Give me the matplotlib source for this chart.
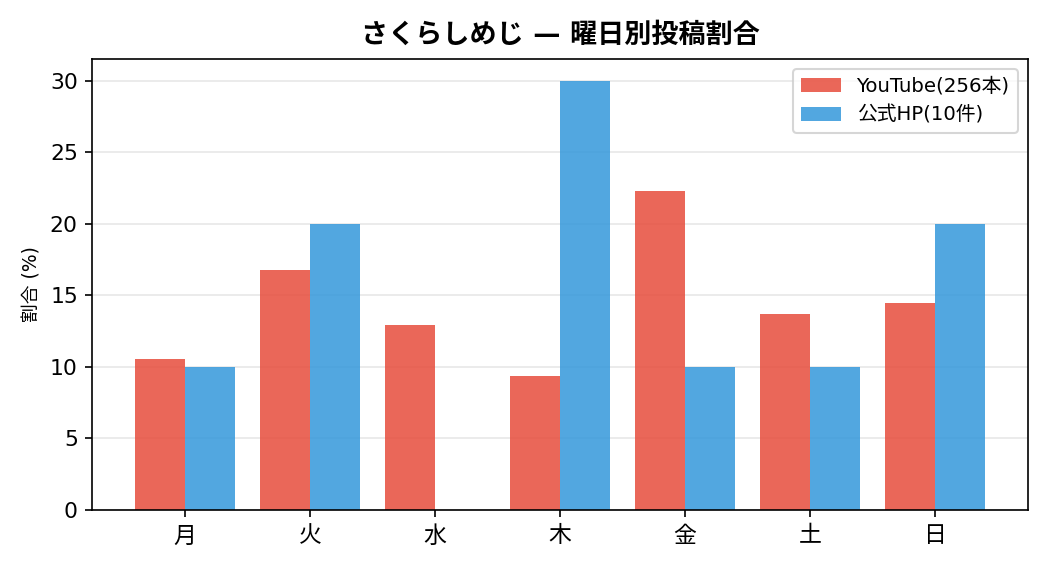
import numpy as np
import matplotlib
matplotlib.use("Agg")
import matplotlib.pyplot as plt

plt.rcParams['font.family'] = ['DejaVu Sans', 'Noto Sans CJK JP']

days = ['月', '火', '水', '木', '金', '土', '日']
youtube_pct = [10.55, 16.80, 12.89, 9.38, 22.27, 13.67, 14.45]
hp_pct = [10, 20, 0, 30, 10, 10, 20]

x = np.arange(len(days))
w = 0.4

fig, ax = plt.subplots(figsize=(7, 3.8), dpi=150)
ax.bar(x - w/2, youtube_pct, w, color='#e74c3c', alpha=0.85, label='YouTube(256本)')
ax.bar(x + w/2, hp_pct, w, color='#3498db', alpha=0.85, label='公式HP(10件)')

ax.set_xticks(x)
ax.set_xticklabels(days, fontsize=11)
ax.tick_params(axis='y', labelsize=10.5)
ax.set_ylabel('割合 (%)', fontsize=9)
ax.set_title('さくらしめじ — 曜日別投稿割合', fontsize=13, fontweight='bold', pad=8)
ax.grid(axis='y', alpha=0.3)
ax.set_axisbelow(True)
ax.legend(fontsize=9.5)

plt.tight_layout()
plt.savefig('out.png')
